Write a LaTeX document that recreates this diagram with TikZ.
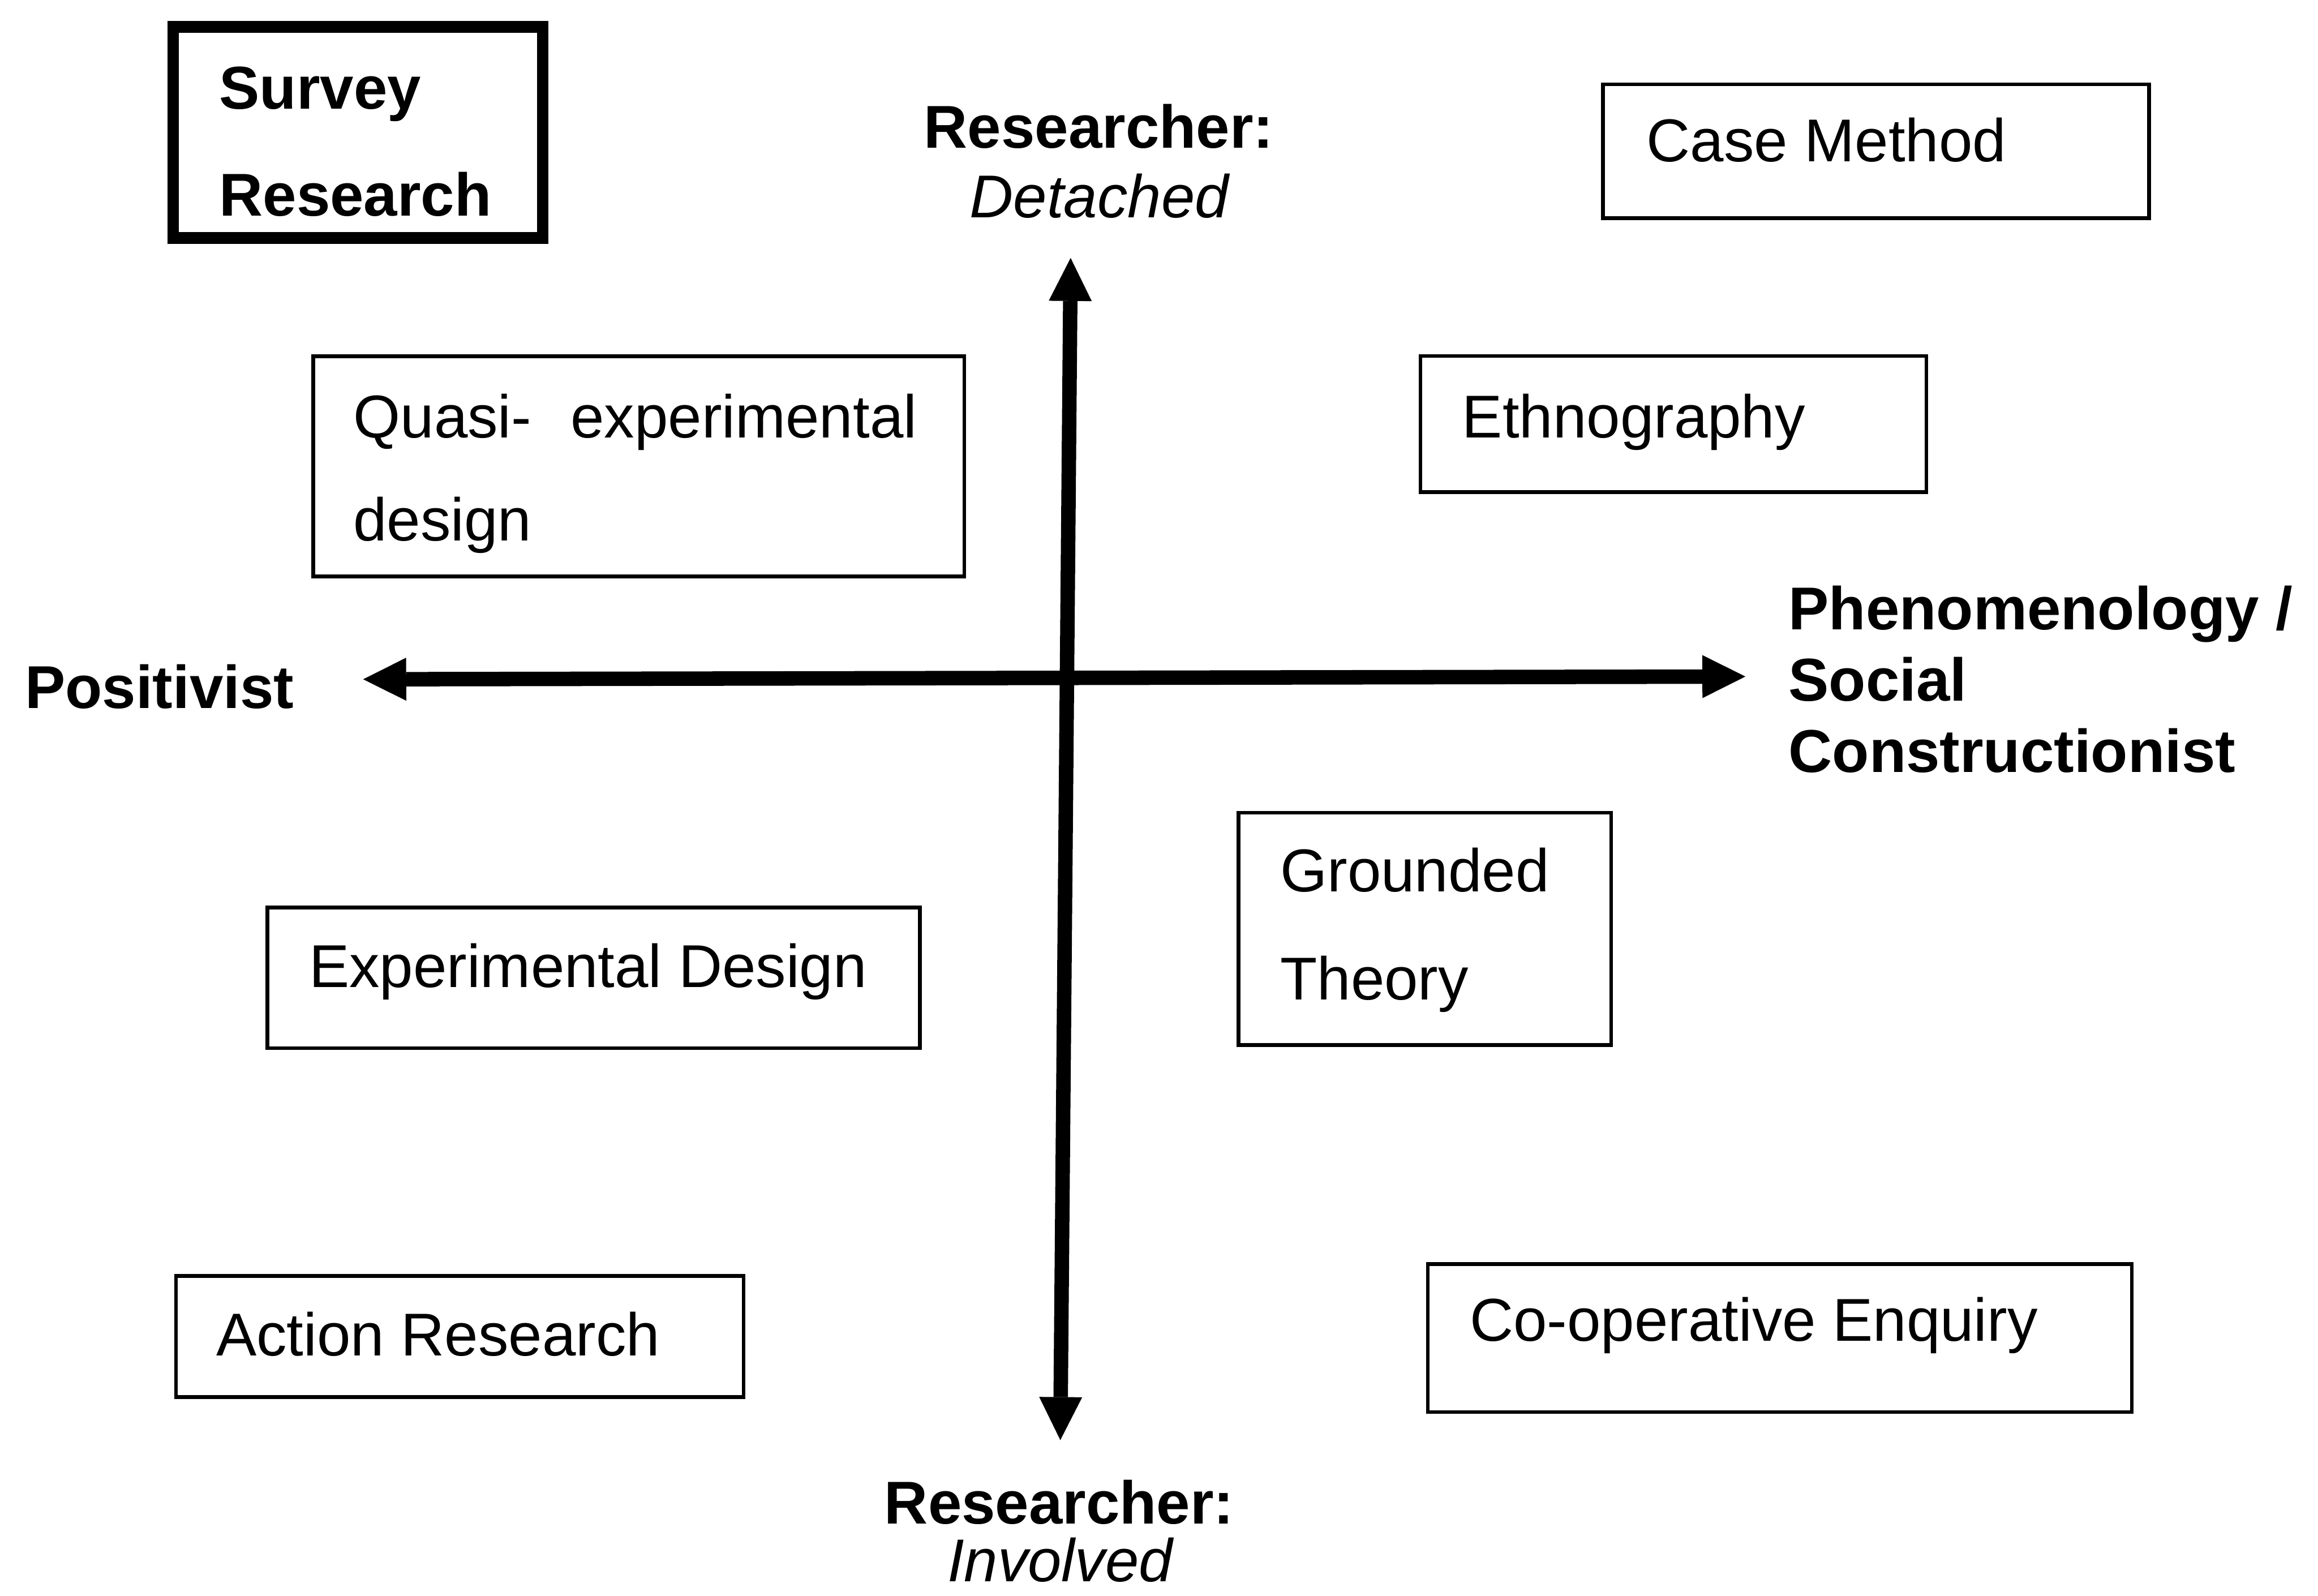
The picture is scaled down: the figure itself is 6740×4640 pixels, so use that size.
\documentclass[tikz,border=0pt]{standalone}
\usepackage{fontspec}
\setmainfont{Liberation Sans}
\usetikzlibrary{arrows.meta}
\begin{document}
\begin{tikzpicture}[x=0.01cm,y=-0.01cm,
  box/.style={draw, line width=3pt, inner sep=0pt, outer sep=0pt},
  thickbox/.style={draw, line width=9.6pt, inner sep=0pt, outer sep=0pt},
  txt/.style={anchor=base west, inner sep=0pt, font=\fontsize{50}{58}\selectfont},
  btxt/.style={anchor=base west, inner sep=0pt, font=\fontsize{50}{58}\selectfont\bfseries},
  cbtxt/.style={anchor=base, inner sep=0pt, font=\fontsize{50}{58}\selectfont\bfseries},
  citxt/.style={anchor=base, inner sep=0pt, font=\fontsize{50}{58}\selectfont\itshape},
  axis/.style={line width=0.42cm,
    {Triangle[length=1.25cm,width=1.25cm,line width=0pt]}-{Triangle[length=1.25cm,width=1.25cm,line width=0pt]}}
]
\useasboundingbox (0,0) rectangle (6740,4640);
\fill[white] (0,0) rectangle (6740,4640);

% boxes
\node[thickbox, minimum width=10.74cm, minimum height=6.13cm] (survey) at (1041,385) {};
\node[box, minimum width=15.87cm, minimum height=3.89cm] (case) at (5455,440) {};
\node[box, minimum width=14.70cm, minimum height=3.95cm] (ethno) at (4866,1233) {};
\node[box, minimum width=18.92cm, minimum height=6.40cm] (quasi) at (1857,1356) {};
\node[box, minimum width=18.96cm, minimum height=4.09cm] (exper) at (1726,2843) {};
\node[box, minimum width=10.83cm, minimum height=6.75cm] (ground) at (4143,2701) {};
\node[box, minimum width=16.50cm, minimum height=3.52cm] (action) at (1337,3886) {};
\node[box, minimum width=20.46cm, minimum height=4.30cm] (coop) at (5175,3890) {};

% box texts
\node[btxt] (surveyA) at (637,317) {Survey};
\node[btxt] (surveyB) at (637,627) {Research};
\node[txt] (caseT) at (4787,470) {Case Method};
\node[txt] (ethnoT) at (4251,1272) {Ethnography};
\node[txt] (quasiA) at (1027,1272) {Quasi-\hspace{1.14cm}experimental};
\node[txt] (quasiB) at (1027,1573) {design};
\node[txt] (experT) at (898,2871) {Experimental Design};
\node[txt] (groundA) at (3722,2592) {Grounded};
\node[txt] (groundB) at (3722,2906) {Theory};
\node[txt] (actionT) at (628,3942) {Action Research};
\node[txt] (coopT) at (4273,3899) {Co-operative Enquiry};

% axis labels
\node[btxt] (posit) at (72,2060) {Positivist};
\node[btxt] (phenA) at (5200,1831) {Phenomenology /};
\node[btxt] (phenB) at (5200,2038) {Social};
\node[btxt] (phenC) at (5200,2246) {Constructionist};
\node[cbtxt] (detA) at (3195,430) {Researcher:};
\node[citxt] (detB) at (3196,633) {Detached};
\node[cbtxt] (invA) at (3080,4430) {Researcher:};
\node[citxt] (invB) at (3082,4598) {Involved};

% axes
\coordinate (vtop) at (3113,750);
\coordinate (vbot) at (3083,4187);
\coordinate (hleft) at (1056,1975);
\coordinate (hright) at (5075,1967);
\draw[axis] (vtop) -- (vbot);
\draw[axis] (hleft) -- (hright);
\end{tikzpicture}
\end{document}
